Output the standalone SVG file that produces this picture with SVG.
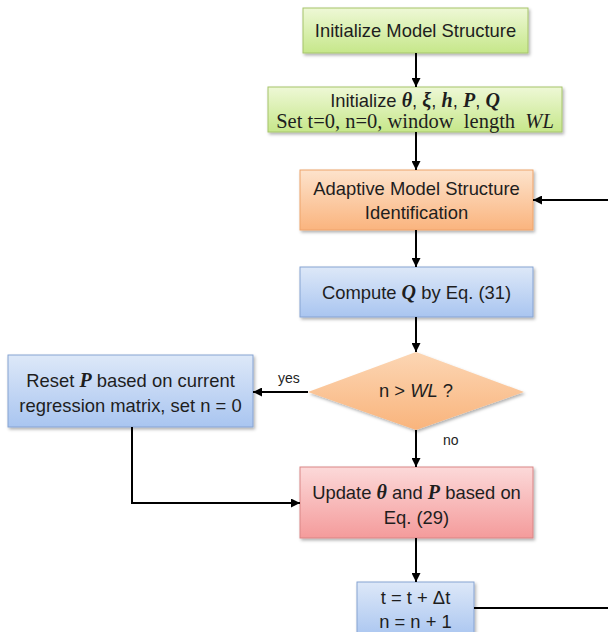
<svg xmlns="http://www.w3.org/2000/svg" width="608" height="632" viewBox="0 0 608 632">
  <defs>
    <linearGradient id="gGreen" x1="0" y1="0" x2="0" y2="1">
      <stop offset="0" stop-color="#eef8d6"/>
      <stop offset="1" stop-color="#c6e78a"/>
    </linearGradient>
    <linearGradient id="gOrange" x1="0" y1="0" x2="0" y2="1">
      <stop offset="0" stop-color="#fde3cc"/>
      <stop offset="1" stop-color="#fab47e"/>
    </linearGradient>
    <linearGradient id="gBlue" x1="0" y1="0" x2="0" y2="1">
      <stop offset="0" stop-color="#dde8f8"/>
      <stop offset="1" stop-color="#a9c5f0"/>
    </linearGradient>
    <linearGradient id="gRed" x1="0" y1="0" x2="0" y2="1">
      <stop offset="0" stop-color="#fcd9d9"/>
      <stop offset="1" stop-color="#f49b9b"/>
    </linearGradient>
    <linearGradient id="gDiamond" x1="0" y1="0" x2="0" y2="1">
      <stop offset="0" stop-color="#fcd6b4"/>
      <stop offset="1" stop-color="#f9b47c"/>
    </linearGradient>
    <filter id="shadow" x="-10%" y="-10%" width="130%" height="140%">
      <feDropShadow dx="1.5" dy="2" stdDeviation="1.5" flood-color="#000" flood-opacity="0.3"/>
    </filter>
    <marker id="arrow" viewBox="0 0 10 10" refX="10" refY="5" markerWidth="9" markerHeight="9" markerUnits="userSpaceOnUse" orient="auto">
      <path d="M0,0 L10,5 L0,10 z" fill="#000"/>
    </marker>
  </defs>
  <style>
    .box { stroke-width: 1; filter: url(#shadow); }
    .green { fill: url(#gGreen); stroke: #a6c46a; }
    .orange { fill: url(#gOrange); stroke: #eea36a; }
    .blue { fill: url(#gBlue); stroke: #86a3d2; }
    .red { fill: url(#gRed); stroke: #d98585; }
    .diamond { fill: url(#gDiamond); stroke: none; filter: url(#shadow); }
    .t { font-family: "Liberation Sans", Arial, sans-serif; font-size: 18.4px; fill: #1e1e1e; text-anchor: middle; }
    .m { font-family: "Liberation Serif", "Times New Roman", serif; font-weight: bold; font-style: italic; font-size: 20px; }
    .serif { font-family: "Liberation Serif", "Times New Roman", serif; font-size: 20.5px; fill: #1e1e1e; text-anchor: middle; white-space: pre; }
    .lbl { font-family: "Liberation Sans", Arial, sans-serif; font-size: 14px; fill: #1e1e1e; }
    .wire { fill: none; stroke: #000; stroke-width: 2; }
  </style>

  <!-- process steps -->
  <g id="init-structure">
    <rect class="box green" x="303" y="8" width="225" height="45"/>
    <text class="t" x="415.5" y="37">Initialize Model Structure</text>
  </g>

  <g id="init-params">
    <rect class="box green" x="268" y="87" width="294" height="45"/>
    <text class="t" x="415" y="107">Initialize <tspan class="m">θ</tspan>, <tspan class="m">ξ</tspan>, <tspan class="m">h</tspan>, <tspan class="m">P</tspan>, <tspan class="m">Q</tspan></text>
    <text class="serif" x="415" y="128">Set t=0, n=0, window  length  <tspan font-style="italic">WL</tspan></text>
  </g>

  <g id="structure-id">
    <rect class="box orange" x="300" y="170" width="233" height="60"/>
    <text class="t" x="416.5" y="195">Adaptive Model Structure</text>
    <text class="t" x="416.5" y="219">Identification</text>
  </g>

  <g id="compute-q">
    <rect class="box blue" x="300" y="267" width="233" height="50"/>
    <text class="t" x="416.5" y="299">Compute <tspan class="m">Q</tspan> by Eq. (31)</text>
  </g>

  <g id="window-check">
    <polygon class="diamond" points="416,352 524,392 416,430 308,392"/>
    <text class="t" x="416" y="397" font-size="15">n &gt; <tspan font-style="italic">WL</tspan> ?</text>
  </g>

  <g id="reset-p">
    <rect class="box blue" x="8" y="355" width="245" height="72"/>
    <text class="t" x="130.5" y="387">Reset <tspan class="m">P</tspan> based on current</text>
    <text class="t" x="130.5" y="412">regression matrix, set n = 0</text>
  </g>

  <g id="update">
    <rect class="box red" x="300" y="467" width="233" height="71"/>
    <text class="t" x="416.5" y="499">Update <tspan class="m">θ</tspan> and <tspan class="m">P</tspan> based on</text>
    <text class="t" x="416.5" y="524">Eq. (29)</text>
  </g>

  <g id="step-time">
    <rect class="box blue" x="357" y="582" width="117" height="56"/>
    <text class="t" x="415.5" y="604">t = t + Δt</text>
    <text class="t" x="415.5" y="628">n = n + 1</text>
  </g>

  <!-- connectors -->
  <g id="connectors">
    <line class="wire" x1="416" y1="53" x2="416" y2="87" marker-end="url(#arrow)"/>
    <line class="wire" x1="416" y1="132" x2="416" y2="170" marker-end="url(#arrow)"/>
    <line class="wire" x1="416" y1="230" x2="416" y2="267" marker-end="url(#arrow)"/>
    <line class="wire" x1="416" y1="317" x2="416" y2="352" marker-end="url(#arrow)"/>
    <line class="wire" x1="308" y1="392" x2="253" y2="392" marker-end="url(#arrow)"/>
    <line class="wire" x1="416" y1="430" x2="416" y2="467" marker-end="url(#arrow)"/>
    <path class="wire" d="M132,427 V503 H300" marker-end="url(#arrow)"/>
    <line class="wire" x1="416" y1="538" x2="416" y2="582" marker-end="url(#arrow)"/>
    <path class="wire" d="M474,608 H612 V200 H533" marker-end="url(#arrow)"/>
    <text class="lbl" x="278" y="383">yes</text>
    <text class="lbl" x="443" y="445">no</text>
  </g>
</svg>
